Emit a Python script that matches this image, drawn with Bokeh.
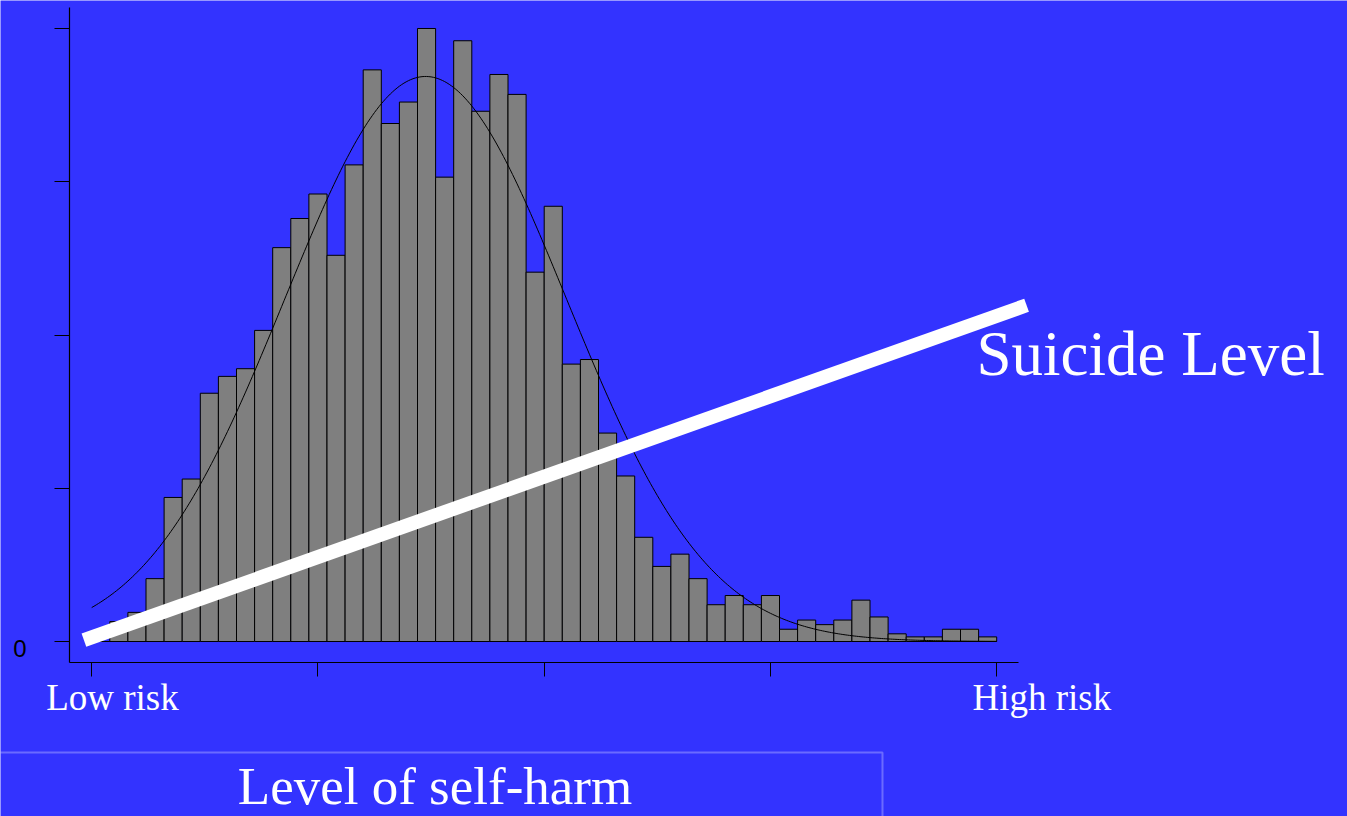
import numpy as np
from bokeh.plotting import figure
from bokeh.models import Range1d, FixedTicker, Label, Arrow, PolyAnnotation, CustomJSTickFormatter
from bokeh.embed import file_html
from bokeh.resources import INLINE

# ---- data ----
bin_index = list(range(50))          # 50 equal-width bins from low to high risk
counts = [0, 13, 19, 41, 94, 106, 162, 173, 178, 203,
          257, 276, 292, 252, 311, 373, 338, 352, 400, 303,
          392, 346, 370, 357, 241, 284, 181, 184, 136, 108,
          68, 49, 57, 41, 24, 30, 24, 30, 8, 14,
          11, 14, 27, 16, 5, 3, 3, 8, 8, 3]
x_ticks = [0, 12.5, 25, 37.5, 50]
y_ticks = [0, 100, 200, 300, 400]
y_tick_label = "0"
end_labels = ["Low risk", "High risk"]
axis_title = "Level of self-harm"
line_title = "Suicide Level"

# fitted normal curve parameters
curve_mean = 18.45
curve_sd = 7.78
curve_peak = 368.7

# suicide-level trend line (start / end, in data units)
trend_x = [-0.43, 51.65]
trend_y = [0.85, 219.4]

BLUE = "#3333FF"
SERIF = "Liberation Serif"

W, H = 1347, 816
p = figure(width=W, height=H, output_backend="svg", toolbar_location=None,
           x_range=Range1d(-5.0387, 69.381), y_range=Range1d(-114.19, 418.27),
           min_border_left=0, min_border_right=0, min_border_top=0, min_border_bottom=0,
           background_fill_color=BLUE, border_fill_color=BLUE, outline_line_color=None)

p.xgrid.visible = False
p.ygrid.visible = False

# axes pinned inside the frame (R-style L-shaped box)
p.xaxis.fixed_location = -13.703
p.xaxis.bounds = (-1.2265, 51.2044)
p.yaxis.fixed_location = -1.254
p.yaxis.bounds = (-13.703, 413.7)

for ax, ticks, tout in ((p.xaxis, x_ticks, 14), (p.yaxis, y_ticks, 15)):
    ax.ticker = FixedTicker(ticks=ticks)
    ax.formatter = CustomJSTickFormatter(code="return ''")
    ax.axis_line_color = "black"
    ax.axis_line_width = 1.2
    ax.major_tick_line_color = "black"
    ax.major_tick_in = 0
    ax.major_tick_out = tout
    ax.minor_tick_in = 0
    ax.minor_tick_out = 0

# histogram bars
left = bin_index
right = [i + 1 for i in bin_index]
p.quad(left=left, right=right, bottom=0, top=counts,
       fill_color="#7F7F7F", line_color="black", line_width=1)

# normal curve
xs = np.linspace(0, 50, 401)
ys = curve_peak * np.exp(-((xs - curve_mean) ** 2) / (2 * curve_sd ** 2))
p.line(xs, ys, line_color="black", line_width=1)

# white trend line
p.add_layout(Arrow(end=None, start=None, x_start=trend_x[0], y_start=trend_y[0],
                   x_end=trend_x[1], y_end=trend_y[1],
                   line_color="white", line_width=14, line_cap="butt"))

# "0" tick label
p.add_layout(Label(x=-4.34, y=-4.6, text=y_tick_label, text_font="Liberation Sans",
                   text_font_size="24px", text_color="black",
                   text_align="left", text_baseline="alphabetic"))

# low / high risk
p.add_layout(Label(x=-2.514, y=-36.7, text=end_labels[0], text_font=SERIF,
                   text_font_size="37px", text_color="white",
                   text_align="left", text_baseline="alphabetic"))
p.add_layout(Label(x=48.663, y=-36.7, text=end_labels[1], text_font=SERIF,
                   text_font_size="37px", text_color="white",
                   text_align="left", text_baseline="alphabetic"))

# Suicide Level
p.add_layout(Label(x=48.884, y=187.6, text=line_title, text_font=SERIF,
                   text_font_size="63px", text_color="white",
                   text_align="left", text_baseline="alphabetic"))

# box with axis title
p.add_layout(PolyAnnotation(xs=[-5.6, 43.69, 43.69, -5.6], ys=[-72.43, -72.43, -125, -125],
                            fill_color=None, line_color="#EEEEFF", line_width=2))
p.add_layout(Label(x=18.967, y=-94.0, text=axis_title, text_font=SERIF,
                   text_font_size="53px", text_color="white",
                   text_align="center", text_baseline="alphabetic"))

open("out.html", "w").write(file_html(p, INLINE))
